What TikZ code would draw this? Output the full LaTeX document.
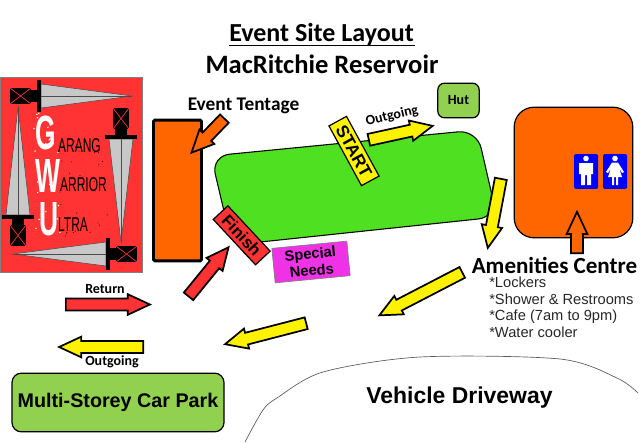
\documentclass[tikz,border=0pt]{standalone}
\usepackage{fontspec}
\setmainfont{Carlito}
\newfontfamily\arialfont{Liberation Sans}
\usetikzlibrary{shapes.arrows}
\definecolor{logored}{HTML}{FF3333}
\definecolor{siteorange}{HTML}{FF6600}
\definecolor{lawngreen}{HTML}{4FE021}
\definecolor{parkgreen}{HTML}{92D050}
\definecolor{needspink}{HTML}{F032E6}
\definecolor{swordgray}{HTML}{C8C8C8}
\tikzset{
    blockarrow/.style={single arrow, draw=black, line width=1.3pt, inner sep=3.8pt, anchor=tail,
        minimum width=15.5pt, single arrow head extend=3.2pt, single arrow tip angle=50},
    signbox/.style={draw=black, line width=0.9pt, text=black, inner sep=0pt, align=center},
    gwuletter/.style={text=white, font=\arialfont\bfseries\fontsize{36}{36}\selectfont,
        xscale=0.55, transform shape},
    gwuword/.style={anchor=west, text=black, font=\arialfont\fontsize{15}{15}\selectfont,
        xscale=0.6, transform shape, inner sep=0pt},
    smalllabel/.style={font=\bfseries\fontsize{10.5}{12}\selectfont, text=black},
    titlelabel/.style={anchor=base, font=\bfseries\fontsize{19.5}{22}\selectfont, text=black, inner sep=0pt}
}
\begin{document}
\begin{tikzpicture}[x=0.75pt, y=-0.75pt]
    \useasboundingbox (0,0) rectangle (640,443);

    % Logo panel
    \draw[gray, fill=logored, line width=0.6pt] (0,77) rectangle (142,272);
    \foreach \tipx/\tipy/\ang/\len in {132/96/180/91, 121/242/90/103, 13/254/0/93, 18/107/-90/108} {
        \begin{scope}[shift={(\tipx,\tipy)}, rotate=\ang]
            \draw[black!70, fill=swordgray, line width=0.4pt] (0,0) -- (\len,-12) -- (\len,12) -- cycle;
            \draw[black!70, line width=0.4pt] (0,0) -- (\len,0);
            \fill[black] (\len,-16) rectangle ++(4,32);
            \fill[black] (\len+4,-6) rectangle ++(6,12);
            \fill[black] (\len+10,-8) rectangle ++(21,16);
            \draw[logored, line width=0.5pt] (\len+10,-8) -- ++(21,16);
            \draw[logored, line width=0.5pt] (\len+10,8) -- ++(21,-16);
        \end{scope}
    }
    \node[gwuletter] (letterg) at (46,133) {G};
    \node[gwuletter] (letterw) at (48,176) {W};
    \node[gwuletter] (letteru) at (49,219) {U};
    \node[gwuword] (wordg) at (58,146) {ARANG};
    \node[gwuword] (wordw) at (60,185) {ARRIOR};
    \node[gwuword] (wordu) at (58,225) {LTRA};
    % Speckles
    \pgfmathsetseed{7}
    \foreach \i in {1,...,30} {
        \fill[white] ({34+27*rnd},{112+128*rnd}) circle (0.8);
        \fill[black] ({58+50*rnd},{136+100*rnd}) circle (0.5);
    }

    % Title
    \node[titlelabel] (title) at (321.5,41) {Event Site Layout};
    \node[titlelabel, font=\bfseries\fontsize{19.9}{22}\selectfont] (subtitle) at (322,73) {MacRitchie Reservoir};
    \draw[black, line width=1.2pt] (229,45.5) -- (414.5,45.5);

    % Green site area
    \draw[black, fill=lawngreen, line width=0.8pt, rounded corners=14] (211,156) -- (477,130) -- (497,217) -- (232,245) -- cycle;

    % Event tentage
    \node[draw=black, fill=siteorange, line width=2.2pt, rounded corners=1pt, minimum width=36pt, minimum height=105.5pt, inner sep=0pt] (tentage) at (177.5,190.5) {};
    \node[font=\bfseries\fontsize{14.5}{16}\selectfont, text=black] (tentagelabel) at (243.5,106) {Event Tentage};
    \node[blockarrow, fill=siteorange, minimum height=35.5pt, rotate=226] (tentagearrow) at (225,118) {};

    % Labels on the site
    \node[signbox, fill=yellow, minimum width=51pt, minimum height=15pt, rotate=-61.4, font=\arialfont\bfseries\fontsize{13}{14}\selectfont] (start) at (354,151) {START};
    \node[signbox, fill=logored, minimum width=46.5pt, minimum height=15pt, rotate=-47, font=\arialfont\bfseries\fontsize{12.5}{14}\selectfont] (finish) at (241.7,235.3) {Finish};
    \node[signbox, fill=needspink, draw=gray, line width=0.5pt, minimum width=56.5pt, minimum height=26pt, rotate=5.5, font=\arialfont\bfseries\fontsize{11}{12.5}\selectfont] (needs) at (311,262) {Special\\Needs};

    % Hut
    \node[signbox, fill=parkgreen, rounded corners=5pt, minimum width=31pt, minimum height=26pt, font=\bfseries\fontsize{10.5}{12}\selectfont] (hut) at (458.5,100.5) {Hut};
    \node[smalllabel, rotate=13] (outgoingtop) at (392,116) {Outgoing};

    % Amenities centre
    \node[draw=black, fill=siteorange, line width=0.9pt, rounded corners=15pt, minimum width=89pt, minimum height=98pt, inner sep=0pt] (amenities) at (573.5,172.5) {};
    \foreach \signx/\signname in {586/malesign, 615/femalesign} {
        \node[fill=blue, rounded corners=1pt, minimum width=18pt, minimum height=26pt, inner sep=0pt] (\signname) at (\signx,171.5) {};
        \fill[white] (\signx,158.5) circle (2.8);
    }
    % Male figure
    \fill[white] (579,163) -- (593,163) -- (593,174) -- (591,174) -- (591,185) -- (587,185) -- (587,175) -- (585,175) -- (585,185) -- (581,185) -- (581,174) -- (579,174) -- cycle;
    % Female figure
    \fill[white] (612,162.5) -- (618,162.5) -- (624,172) -- (622,173) -- (619,168) -- (622,177) -- (618,177) -- (618,185) -- (616,185) -- (616,177) -- (614,177) -- (614,185) -- (612,185) -- (612,177) -- (608,177) -- (611,168) -- (608,173) -- (606,172) -- cycle;
    \node[blockarrow, fill=siteorange, minimum height=31pt, rotate=90] (amenitiesarrow) at (577,254) {};
    \node[font=\bfseries\fontsize{17.3}{18}\selectfont, text=black] (amenitieslabel) at (554.5,265) {Amenities Centre};
    \node[anchor=north west, inner sep=0pt, align=left, text=black!85, font=\arialfont\fontsize{11}{12.3}\selectfont] (amenitieslist) at (489,277) {*Lockers\\*Shower \& Restrooms\\*Cafe (7am to 9pm)\\*Water cooler};

    % Route arrows
    \node[blockarrow, fill=yellow, minimum height=49pt, rotate=12.3] (arrowstart) at (368,140) {};
    \node[blockarrow, fill=yellow, minimum height=52.7pt, rotate=-100.7] (arrowa) at (501,178) {};
    \node[blockarrow, fill=yellow, minimum height=70pt, rotate=207.4] (arrowb) at (463,272) {};
    \node[blockarrow, fill=yellow, minimum height=62.8pt, rotate=194.5] (arrowc) at (307,323) {};
    \node[blockarrow, fill=yellow, minimum height=63pt, rotate=180] (arrowd) at (144,347) {};
    \node[blockarrow, fill=logored, minimum height=63pt] (arrowreturn) at (65,304.5) {};
    \node[blockarrow, fill=logored, minimum height=47.5pt, rotate=50.8] (arrowfinish) at (188,297) {};
    \node[smalllabel] (returnlabel) at (105,289.5) {Return};
    \node[smalllabel] (outgoinglabel) at (112,361.5) {Outgoing};

    % Car park and driveway
    \node[draw=black, fill=parkgreen, line width=0.9pt, rounded corners=7pt, minimum width=159pt, minimum height=44pt, inner sep=0pt, text=black, font=\arialfont\bfseries\fontsize{14.8}{16}\selectfont] (carpark) at (118,402.5) {Multi-Storey Car Park};
    \draw[black!65, line width=0.5pt] plot[smooth, tension=0.5] coordinates {(245,442) (263,410) (277,398) (323,372) (420,357) (560,359) (617,378) (638,393)};
    \node[text=black, font=\arialfont\bfseries\fontsize{17.2}{18}\selectfont] (driveway) at (459.5,398) {Vehicle Driveway};
\end{tikzpicture}
\end{document}
